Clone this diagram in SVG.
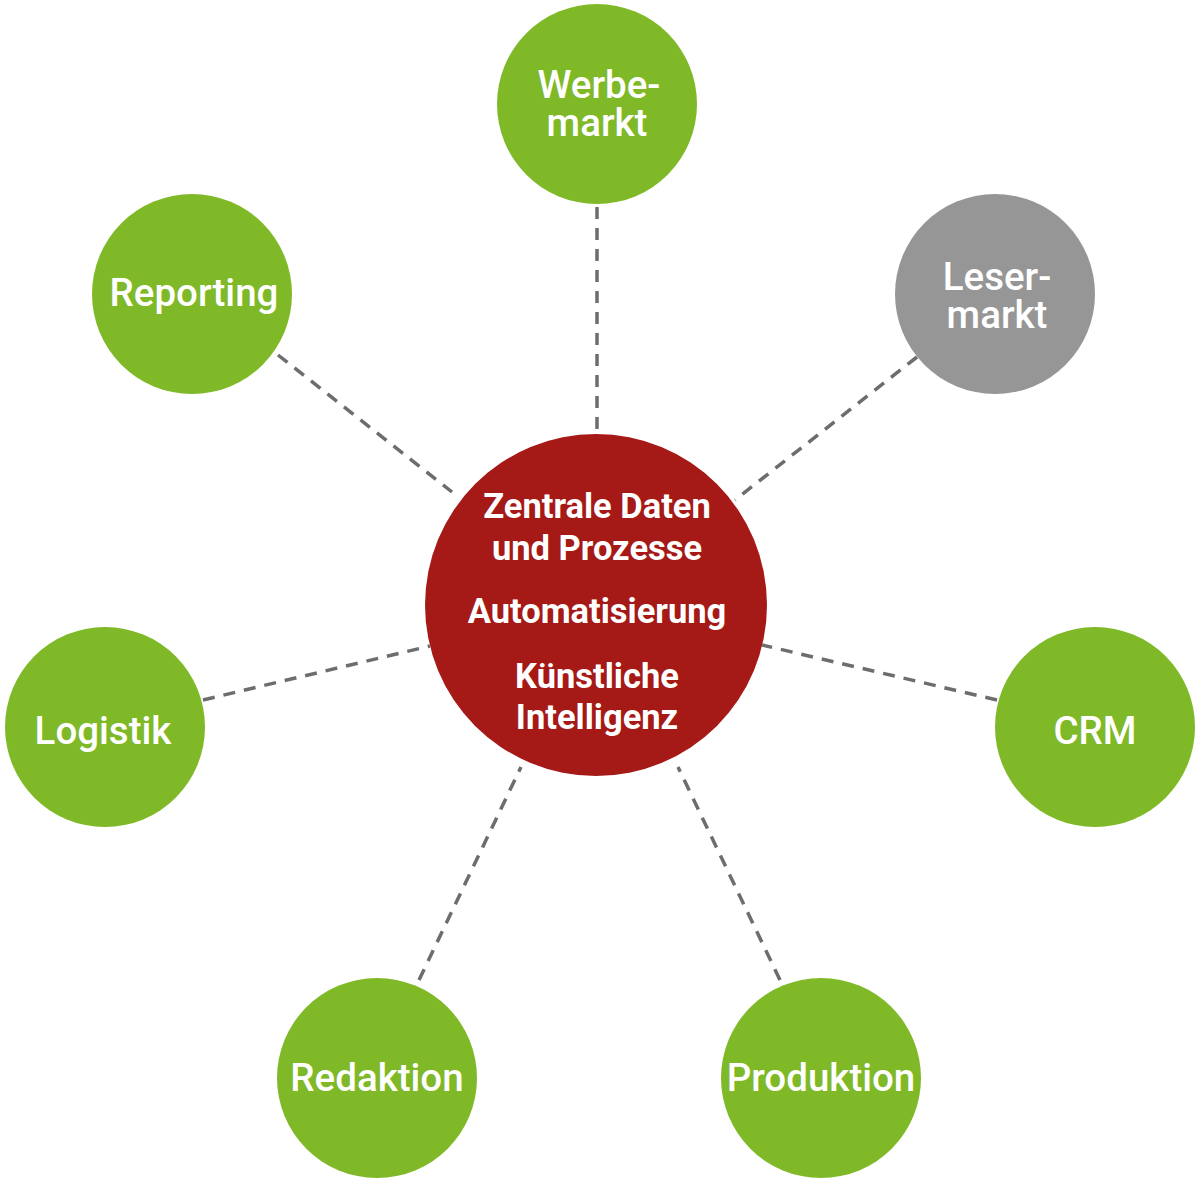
<svg xmlns="http://www.w3.org/2000/svg" width="1200" height="1200" viewBox="0 0 1200 1200">
<style>
.c{stroke:#6d6d6d;stroke-width:3.5;stroke-dasharray:12 9;fill:none}
.g{fill:#7fb928}
.gr{fill:#969696}
.r{fill:#a51916}
.t{font-family:Roboto,"Liberation Sans",sans-serif;font-weight:500;font-size:38.5px;fill:#fff;text-anchor:middle}
.tc{font-family:Roboto,"Liberation Sans",sans-serif;font-weight:700;font-size:34.5px;fill:#fff;text-anchor:middle}
</style>
<rect width="1200" height="1200" fill="#fff"/>
<g id="connectors">
<line class="c" x1="597" y1="207" x2="597" y2="434"/>
<line class="c" x1="278" y1="355" x2="452" y2="492"/>
<line class="c" x1="917" y1="357" x2="735" y2="500"/>
<line class="c" x1="203" y1="700" x2="430" y2="646"/>
<line class="c" x1="997" y1="700" x2="762" y2="645"/>
<line class="c" x1="419" y1="980" x2="521" y2="767"/>
<line class="c" x1="780" y1="980" x2="678" y2="767"/>
</g>
<g id="center">
<circle class="r" cx="596" cy="605" r="171"/>
<text class="tc" x="597" y="518">Zentrale Daten</text>
<text class="tc" x="597" y="560">und Prozesse</text>
<text class="tc" x="597" y="623">Automatisierung</text>
<text class="tc" x="597" y="688">Künstliche</text>
<text class="tc" x="597" y="729">Intelligenz</text>
</g>
<g id="werbemarkt">
<circle class="g" cx="597" cy="104" r="100"/>
<text class="t"><tspan x="599" y="98">Werbe-</tspan><tspan x="597" y="136">markt</tspan></text>
</g>
<g id="lesermarkt">
<circle class="gr" cx="995" cy="294" r="100"/>
<text class="t"><tspan x="997" y="290">Leser-</tspan><tspan x="997" y="328">markt</tspan></text>
</g>
<g id="reporting">
<circle class="g" cx="192" cy="294" r="100"/>
<text class="t" x="194" y="306">Reporting</text>
</g>
<g id="logistik">
<circle class="g" cx="105" cy="727" r="100"/>
<text class="t" x="103" y="744">Logistik</text>
</g>
<g id="crm">
<circle class="g" cx="1095" cy="727" r="100"/>
<text class="t" x="1095" y="744">CRM</text>
</g>
<g id="redaktion">
<circle class="g" cx="377" cy="1078" r="100"/>
<text class="t" x="377" y="1091">Redaktion</text>
</g>
<g id="produktion">
<circle class="g" cx="821" cy="1078" r="100"/>
<text class="t" x="821" y="1091">Produktion</text>
</g>
</svg>
